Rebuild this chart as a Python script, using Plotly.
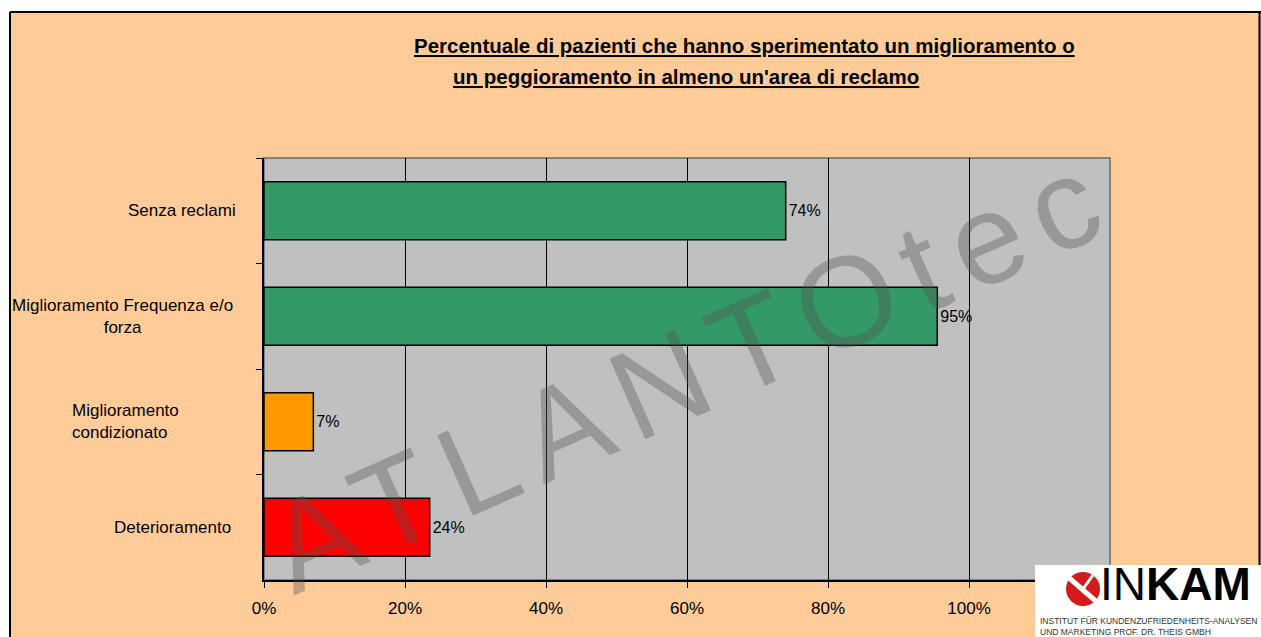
import plotly.graph_objects as go

# dati
categorie = ["Senza reclami", "Miglioramento Frequenza e/o forza",
             "Miglioramento condizionato", "Deterioramento"]
valori = [0.74, 0.955, 0.07, 0.235]
etichette_valori = ["74%", "95%", "7%", "24%"]
colori = ["#339966", "#339966", "#FF9900", "#FF0000"]
# la tacca del 120% resta coperta dal logo, quindi non viene etichettata
x_ticks = [0, 0.2, 0.4, 0.6, 0.8, 1.0]
x_max = 1.2

W, H = 1261, 637
L, R, T, B = 264, 151, 158, 57
PW, PH = W - L - R, H - T - B


def px(x):
    return (x - L) / PW


def py(y):
    return (H - B - y) / PH


FONT = "Liberation Sans, Arial, sans-serif"

fig = go.Figure()

fig.add_trace(go.Bar(
    y=categorie,
    x=valori,
    orientation="h",
    marker=dict(color=colori, line=dict(color="black", width=1.5)),
    text=etichette_valori,
    textposition="outside",
    textfont=dict(family=FONT, size=16, color="black"),
    cliponaxis=False,
    showlegend=False,
))

fig.update_layout(
    width=W, height=H,
    margin=dict(l=L, r=R, t=T, b=B),
    paper_bgcolor="#FFCC99",
    plot_bgcolor="#C0C0C0",
    bargap=0.45,
    font=dict(family=FONT, size=17, color="black"),
    xaxis=dict(
        range=[0, x_max], tickvals=x_ticks, tickformat=".0%",
        showgrid=True, gridcolor="black", gridwidth=1,
        showline=True, linecolor="black", linewidth=1.5,
        ticks="outside", ticklen=6, tickcolor="black",
        tickfont=dict(size=17), zeroline=False, ticklabelstandoff=6,
    ),
    yaxis=dict(
        autorange="reversed", showticklabels=False,
        showline=True, linecolor="black", linewidth=1.5,
        ticks="outside", ticklen=6, tickcolor="black", tickson="boundaries",
        showgrid=False,
    ),
)

shapes = [
    # bordo grigio dell'area del grafico
    dict(type="rect", xref="paper", yref="paper", x0=0, x1=1, y0=0, y1=1,
         line=dict(color="#808080", width=2), layer="below"),
    # margini bianchi e cornice
    dict(type="rect", xref="paper", yref="paper", x0=px(-5), x1=px(9),
         y0=py(H + 5), y1=py(-5), fillcolor="white", line_width=0),
    dict(type="rect", xref="paper", yref="paper", x0=px(-5), x1=px(W + 5),
         y0=py(11), y1=py(-5), fillcolor="white", line_width=0),
    dict(type="line", xref="paper", yref="paper", x0=px(10), x1=px(10),
         y0=py(12), y1=py(H + 5), line=dict(color="black", width=2)),
    dict(type="line", xref="paper", yref="paper", x0=px(10), x1=px(W),
         y0=py(12), y1=py(12), line=dict(color="black", width=2)),
    dict(type="line", xref="paper", yref="paper", x0=px(1259.5), x1=px(1259.5),
         y0=py(12), y1=py(H + 5), line=dict(color="black", width=2)),
    # logo INKAM
    dict(type="rect", xref="paper", yref="paper", x0=px(1035), x1=px(W + 5),
         y0=py(H + 5), y1=py(565), fillcolor="white", line_width=0),
    dict(type="circle", xref="paper", yref="paper", x0=px(1066), x1=px(1100),
         y0=py(606), y1=py(572), fillcolor="#D41A1A", line_width=0),
    dict(type="line", xref="paper", yref="paper", x0=px(1068), x1=px(1098),
         y0=py(577), y1=py(603), line=dict(color="white", width=5)),
    dict(type="line", xref="paper", yref="paper", x0=px(1083), x1=px(1093),
         y0=py(589), y1=py(575), line=dict(color="white", width=3)),
]
fig.update_layout(shapes=shapes)

ann = []
# titolo
ann.append(dict(xref="paper", yref="paper", x=px(412), y=py(46),
                xanchor="left", yanchor="middle", showarrow=False,
                text="<b><u>Percentuale di pazienti che hanno sperimentato un miglioramento o</u></b>",
                font=dict(size=20.5, family=FONT)))
ann.append(dict(xref="paper", yref="paper", x=px(451), y=py(76),
                xanchor="left", yanchor="middle", showarrow=False,
                text="<b><u>un peggioramento in almeno un'area di reclamo</u></b>",
                font=dict(size=20.5, family=FONT)))

# etichette delle categorie
ann.append(dict(xref="paper", yref="y", x=px(238), y=categorie[0],
                xanchor="right", showarrow=False, text="Senza reclami"))
ann.append(dict(xref="paper", yref="y", x=px(122), y=categorie[1],
                xanchor="center", align="center", showarrow=False,
                text="Miglioramento Frequenza e/o<br>forza"))
ann.append(dict(xref="paper", yref="y", x=px(70), y=categorie[2],
                xanchor="left", align="left", showarrow=False,
                text="Miglioramento<br>condizionato"))
ann.append(dict(xref="paper", yref="y", x=px(233), y=categorie[3],
                xanchor="right", showarrow=False, text="Deterioramento"))

# filigrana
ann.append(dict(xref="paper", yref="paper", x=px(690), y=py(370),
                showarrow=False, textangle=-24,
                text="<span style='letter-spacing:16px'>ATLANTOtec</span>",
                font=dict(size=128, family=FONT, color="rgba(80,80,80,0.36)")))

# logo
ann.append(dict(xref="paper", yref="paper", x=px(1099), y=py(584),
                xanchor="left", yanchor="middle", showarrow=False, borderpad=0,
                text="IN<b>KAM</b>",
                font=dict(size=46, family=FONT, color="black")))
ann.append(dict(xref="paper", yref="paper", x=px(1039), y=py(626),
                xanchor="left", yanchor="middle", showarrow=False, align="left",
                borderpad=0,
                text="INSTITUT FÜR KUNDENZUFRIEDENHEITS-ANALYSEN<br>UND MARKETING PROF. DR. THEIS GMBH",
                font=dict(size=8.5, family=FONT, color="#333333")))

fig.update_layout(annotations=ann)

fig.write_html(
    "out.html",
    config={"displayModeBar": False},
    post_script="document.body.style.margin='0';document.body.style.overflow='hidden';",
)
